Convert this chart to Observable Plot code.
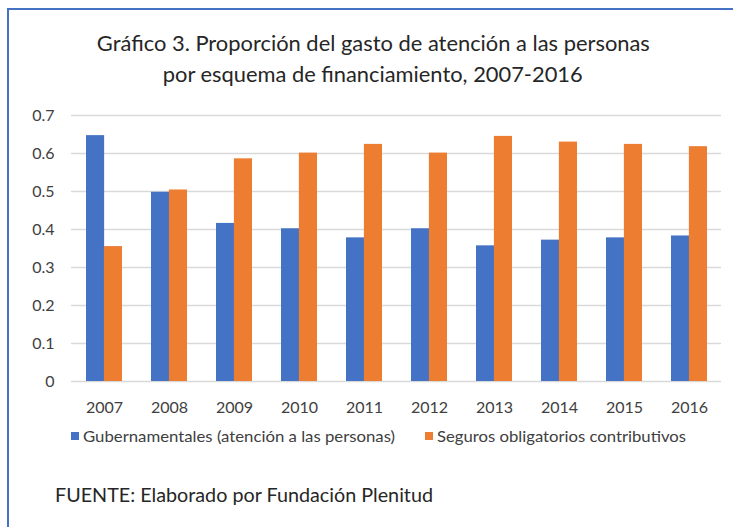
<!DOCTYPE html>
<html>
<head>
<meta charset="utf-8">
<script src="https://cdn.jsdelivr.net/npm/d3@7"></script>
<script src="https://cdn.jsdelivr.net/npm/@observablehq/plot@0.6"></script>
<style>
  html, body { margin: 0; padding: 0; background: #fff; }
  body { width: 733px; height: 527px; position: relative; overflow: hidden; font-family: Lato, "Open Sans", sans-serif; color: #262626; }
  #frame { position: absolute; left: 7px; top: 8px; right: -5px; bottom: -5px; border-left: 2px solid #4472C4; border-top: 2px solid #4472C4; }
  .tline { position: absolute; left: 0; width: 746px; text-align: center; white-space: nowrap; }
  .tline span, .fit { display: inline-block; white-space: nowrap; }
  #chart { position: absolute; left: 0; top: 100px; }
  .leg { position: absolute; display: flex; align-items: center; white-space: nowrap; color: #404040; }
  .sw { width: 8px; height: 8px; margin-right: 4px; flex: none; }
  #source { position: absolute; left: 55px; top: 483px; white-space: nowrap; color: #262626; }
</style>
</head>
<body>
<div id="frame"></div>
<div class="tline" style="top:30px"><span id="t1">Gráfico 3. Proporción del gasto de atención a las personas</span></div>
<div class="tline" style="top:61px"><span id="t2">por esquema de financiamiento, 2007-2016</span></div>
<div id="chart"></div>
<div class="leg" id="leg1" style="left:71px; top:426px"><div class="sw" style="background:#4472C4"></div><span class="fit" id="l1">Gubernamentales (atención a las personas)</span></div>
<div class="leg" id="leg2" style="left:425px; top:426px"><div class="sw" style="background:#ED7D31"></div><span class="fit" id="l2">Seguros obligatorios contributivos</span></div>
<div id="source"><span class="fit" id="src">FUENTE: Elaborado por Fundación Plenitud</span></div>
<script>
// ---- data ----
const years = ["2007","2008","2009","2010","2011","2012","2013","2014","2015","2016"];
const gubernamentales = [0.647, 0.498, 0.416, 0.402, 0.378, 0.402, 0.357, 0.372, 0.378, 0.383];
const seguros = [0.355, 0.504, 0.586, 0.601, 0.624, 0.601, 0.645, 0.630, 0.624, 0.618];
const yTicks = [0, 0.1, 0.2, 0.3, 0.4, 0.5, 0.6, 0.7];
const seriesNames = ["Gubernamentales (atención a las personas)", "Seguros obligatorios contributivos"];

// ---- text fitting helper: set font size, then condense horizontally to target width ----
function fitX(id, targetWidth, size, origin) {
  const el = document.getElementById(id);
  el.style.fontSize = size + "px";
  const w = el.getBoundingClientRect().width;
  el.style.transformOrigin = origin;
  el.style.transform = "scaleX(" + (targetWidth / w).toFixed(4) + ")";
}
fitX("t1", 553, 21, "center");
fitX("t2", 420, 21, "center");
fitX("l1", 312, 16, "left");
fitX("l2", 249, 16, "left");
fitX("src", 378, 19.5, "left");

// ---- chart ----
const rows = years.map((y, i) => ({year: y, g: gubernamentales[i], s: seguros[i]}));
const W = 733, H = 320, mL = 71, mR = 12, mT = 15, mB = 39;
const pInner = 0.45, pOuter = 0.225;
const step = (W - mL - mR) / (years.length - pInner + 2 * pOuter);
const half = step * (1 - pInner) / 2;

const chart = Plot.plot({
  width: W, height: H,
  marginLeft: mL, marginRight: mR, marginTop: mT, marginBottom: mB,
  style: {fontFamily: "Lato, 'Open Sans', sans-serif", fontSize: "16px", color: "#404040", background: "transparent"},
  x: {domain: years, paddingInner: pInner, paddingOuter: pOuter, label: null},
  y: {domain: [0, 0.7], label: null},
  marks: [
    Plot.ruleY(yTicks, {stroke: "#d9d9d9", strokeWidth: 1.5}),
    Plot.barY(rows, {x: "year", y: "g", fill: "#4472C4", insetRight: half}),
    Plot.barY(rows, {x: "year", y: "s", fill: "#ED7D31", insetLeft: half}),
    Plot.axisX({tickSize: 0, tickPadding: 20, fontSize: 16, label: null}),
    Plot.axisY({ticks: yTicks, tickSize: 0, tickPadding: 17, fontSize: 16, tickFormat: d => String(d), label: null})
  ]
});
document.getElementById("chart").appendChild(chart);
</script>
</body>
</html>
